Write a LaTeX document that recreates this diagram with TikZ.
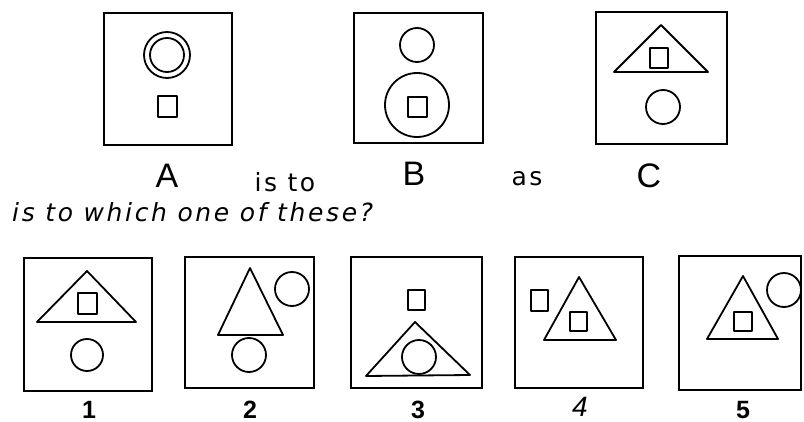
\documentclass[tikz,border=0pt]{standalone}
\usepackage{fontspec}
\setmainfont{Liberation Sans}
\newfontfamily\handfont{DejaVu Sans}
\begin{document}
\begin{tikzpicture}[x=1pt,y=-1pt,
  frame/.style={draw=black,line width=2.8pt},
  shp/.style={draw=black,line width=1.8pt,line join=round},
  letter/.style={font=\fontsize{34}{34}\selectfont,inner sep=0pt,anchor=base},
  word/.style={font=\handfont\fontsize{25}{25}\selectfont\addfontfeatures{LetterSpace=10},inner sep=0pt,anchor=base},
  phrase/.style={font=\handfont\itshape\fontsize{25}{25}\selectfont\addfontfeatures{LetterSpace=10.5},inner sep=0pt,anchor=base west},
  digit/.style={font=\bfseries\fontsize{25}{25}\selectfont,inner sep=0pt,anchor=base}]
\useasboundingbox[fill=white] (0,0) rectangle (804,422);
% Box A
\draw[frame] (104,13) rectangle (232,145);
\draw[shp] (167,55) circle (23);
\draw[shp] (167,55) circle (17);
\draw[shp] (158,96) rectangle (177,117);
% Box B
\draw[frame] (354,13) rectangle (483,143);
\draw[shp] (417,45) circle (17);
\draw[shp] (417,105) circle (32);
\draw[shp] (408,97) rectangle (427,117);
% Box C
\draw[frame] (596,12) rectangle (727,144);
\draw[shp] (661,25) -- (614,72) -- (708,72) -- cycle;
\draw[shp] (650,48) rectangle (668,68);
\draw[shp] (663,107) circle (17);
% labels
\node[letter] (lA) at (167,188) {A};
\node[word] (isto) at (285,192) {is to};
\node[letter] (lB) at (414,186) {B};
\node[word] (as) at (527,186) {as};
\node[letter] (lC) at (649,188) {C};
\node[phrase] (q) at (12,222) {is to which one of these?};
% Box 1
\draw[frame] (24,258) rectangle (152,391);
\draw[shp] (87,271) -- (37,322) -- (136,322) -- cycle;
\draw[shp] (78,293) rectangle (97,314);
\draw[shp] (87,355) circle (16);
% Box 2
\draw[frame] (185,257) rectangle (314,388);
\draw[shp] (250,268) -- (218,335) -- (283,335) -- cycle;
\draw[shp] (292,289) circle (17);
\draw[shp] (249,355) circle (17);
% Box 3
\draw[frame] (351,257) rectangle (482,388);
\draw[shp] (408,290) rectangle (425,310);
\draw[shp] (415,322) -- (366,376) -- (470,375) -- cycle;
\draw[shp] (419,357) circle (17);
% Box 4
\draw[frame] (515,257) rectangle (643,388);
\draw[shp] (531,290) rectangle (548,311);
\draw[shp] (579,277) -- (544,340) -- (616,340) -- cycle;
\draw[shp] (570,312) rectangle (587,331);
% Box 5
\draw[frame] (679,256) rectangle (801,390);
\draw[shp] (743,276) -- (707,339) -- (778,339) -- cycle;
\draw[shp] (734,312) rectangle (752,331);
\draw[shp] (784,290) circle (17);
% digits
\node[digit] (d1) at (89,418) {1};
\node[digit] (d2) at (250,418) {2};
\node[digit] (d3) at (418,418) {3};
\node[digit,font=\itshape\fontsize{28}{28}\selectfont] (d4) at (580,416) {4};
\node[digit] (d5) at (743,418) {5};
\end{tikzpicture}
\end{document}
